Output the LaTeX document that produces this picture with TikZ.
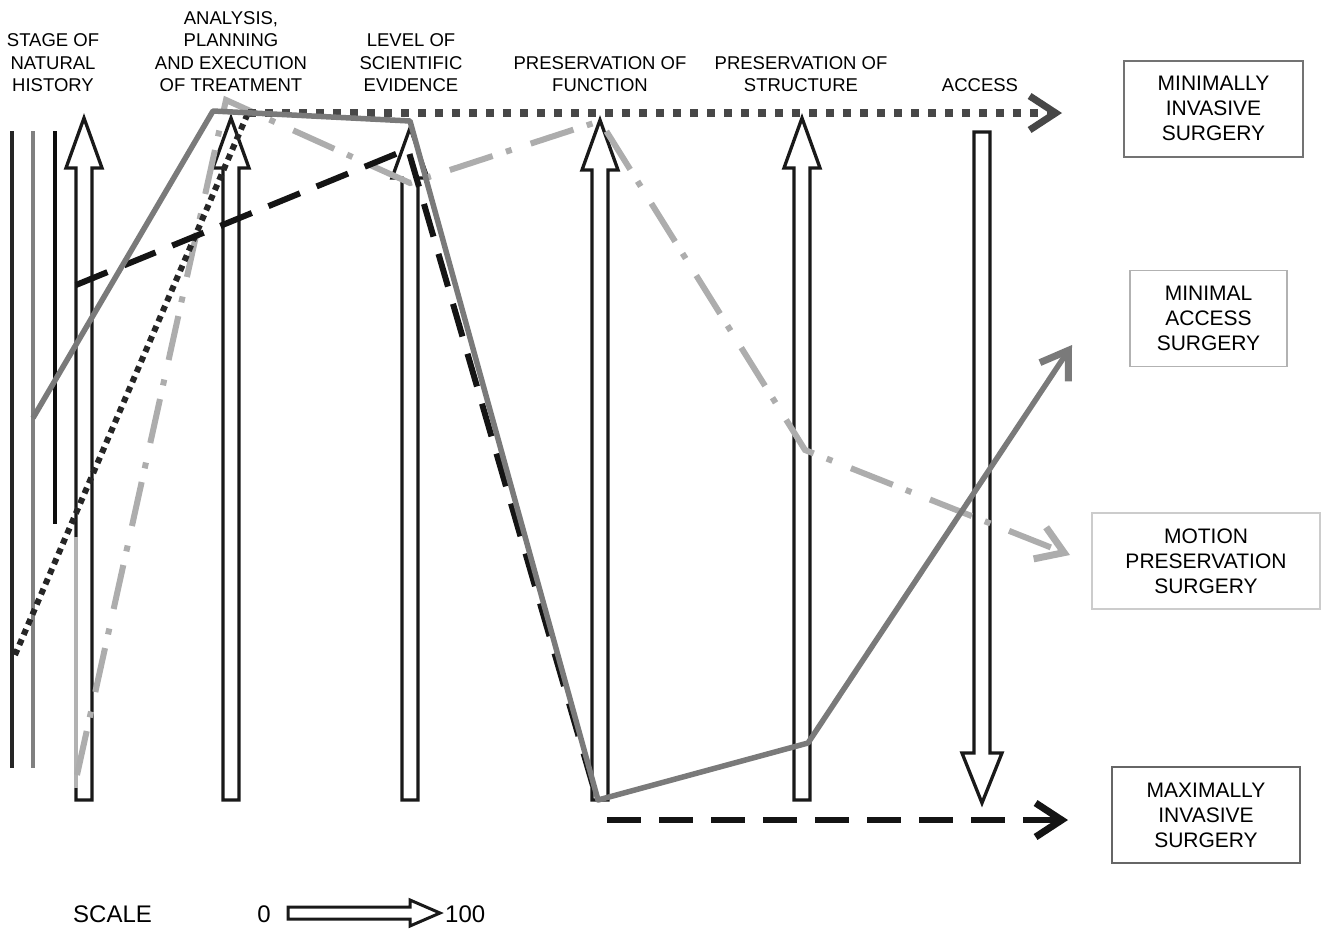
\documentclass[tikz,border=0pt]{standalone}
\usepackage{fontspec}
\setmainfont{Liberation Sans}
\usetikzlibrary{arrows.meta}
\newcommand\colup[2]{\draw[colarr] ({#1-8},800) -- ({#1-8},{#2+50}) -- ({#1-18},{#2+50}) -- (#1,#2) -- ({#1+18},{#2+50}) -- ({#1+8},{#2+50}) -- ({#1+8},800) -- cycle;}
\begin{document}
\begin{tikzpicture}[x=1pt,y=-1pt,
  colarr/.style={draw=black!90, line width=3.3pt, fill=white, line join=miter},
  hdr/.style={align=center, font=\fontsize{18.5}{22.5}\selectfont, inner sep=0pt, anchor=south, text depth=0pt},
  outbox/.style={align=center, font=\fontsize{21}{25}\selectfont, inner sep=0pt, minimum height=96pt},
  dotser/.style={draw=black!85, line width=6pt, dash pattern=on 6pt off 5pt},
  dottop/.style={draw=black!72, line width=7.5pt, dash pattern=on 8pt off 9pt},
  grayser/.style={draw=black!52, line width=5.5pt, line join=round},
  dashser/.style={draw=black!92, line width=6pt, dash pattern=on 34pt off 18pt},
  ltser/.style={draw=black!32, line width=6pt, dash pattern=on 45pt off 14pt on 6pt off 20pt},
  barb/.style={-{Straight Barb[length=26pt,width=34pt,line width=7pt]}},
  leftline/.style={line width=3.5pt}
]
\useasboundingbox (0,0) rectangle (1324,929);

% left vertical lines
\draw[leftline, black!85] (12,131) -- (12,768);
\draw[leftline, black!50] (33,131) -- (33,768);
\draw[leftline, black!95] (55,131) -- (55,524);

% column arrows
\colup{84}{118}
\colup{231}{118}
\colup{410}{128}
\colup{600}{120}
\colup{802}{118}
\draw[colarr] (974,132) -- (990,132) -- (990,753) -- (1002,753) -- (982,803) -- (962,753) -- (974,753) -- cycle;

\draw[line width=4.5pt, black!30] (76,537) -- (76,788);

% boxes
\node[outbox, draw=black!55, line width=2pt, minimum width=179pt] (mis) at (1213.5,108.5) {MINIMALLY\\INVASIVE\\SURGERY};
\node[outbox, draw=black!30, line width=1.5pt, minimum width=157pt] (mas) at (1208.5,318.5) {MINIMAL\\ACCESS\\SURGERY};
\node[outbox, draw=black!20, line width=1.5pt, minimum width=228pt] (mps) at (1206,561) {MOTION\\PRESERVATION\\SURGERY};
\node[outbox, draw=black!60, line width=2.5pt, minimum width=188pt] (max) at (1206,815) {MAXIMALLY\\INVASIVE\\SURGERY};

% series vertices
\coordinate (d0) at (15,655);
\coordinate (d1) at (248,113);
\coordinate (d2) at (1062,113);
\coordinate (g0) at (33,418);
\coordinate (g1) at (213,111);
\coordinate (g2) at (410,121);
\coordinate (g3) at (598,800);
\coordinate (g4) at (808,743);
\coordinate (g5) at (1072,345);
\coordinate (k0) at (76,285);
\coordinate (k1) at (408,149);
\coordinate (k2) at (598,803);
\coordinate (k3) at (607,820);
\coordinate (k4) at (1068,820);
\coordinate (l0) at (77,775);
\coordinate (l1) at (226,100);
\coordinate (l2) at (410,183);
\coordinate (l3) at (600,121);
\coordinate (l4) at (805,450);
\coordinate (l5) at (1070,555);

% series
\draw[ltser, barb] (l0) -- (l1) -- (l2) -- (l3) -- (l4) -- (l5);
\draw[dotser] (d0) -- (d1);
\draw[dottop, barb] (d1) -- (d2);
\draw[dashser] (k0) -- (k1) -- (k2);
\draw[dashser, barb] (k3) -- (k4);
\draw[grayser, barb] (g0) -- (g1) -- (g2) -- (g3) -- (g4) -- (g5);

% headers
\node[hdr] (h1) at (53,92) {STAGE OF\\NATURAL\\HISTORY};
\node[hdr] (h2) at (231,92) {ANALYSIS,\\PLANNING\\AND EXECUTION\\OF TREATMENT};
\node[hdr] (h3) at (411,92) {LEVEL OF\\SCIENTIFIC\\EVIDENCE};
\node[hdr] (h4) at (600,92) {PRESERVATION OF\\FUNCTION};
\node[hdr] (h5) at (801,92) {PRESERVATION OF\\STRUCTURE};
\node[hdr] (h6) at (980,92) {ACCESS};

% scale
\node[font=\fontsize{24}{28}\selectfont, inner sep=0pt, anchor=base west] (sc) at (73,922) {SCALE};
\node[font=\fontsize{24}{28}\selectfont, inner sep=0pt, anchor=base] (s0) at (264,922) {0};
\draw[colarr, line width=3pt] (288,907) -- (410,907) -- (410,900) -- (440,913) -- (410,926) -- (410,919) -- (288,919) -- cycle;
\node[font=\fontsize{24}{28}\selectfont, inner sep=0pt, anchor=base west] (s1) at (445,922) {100};
\end{tikzpicture}
\end{document}
